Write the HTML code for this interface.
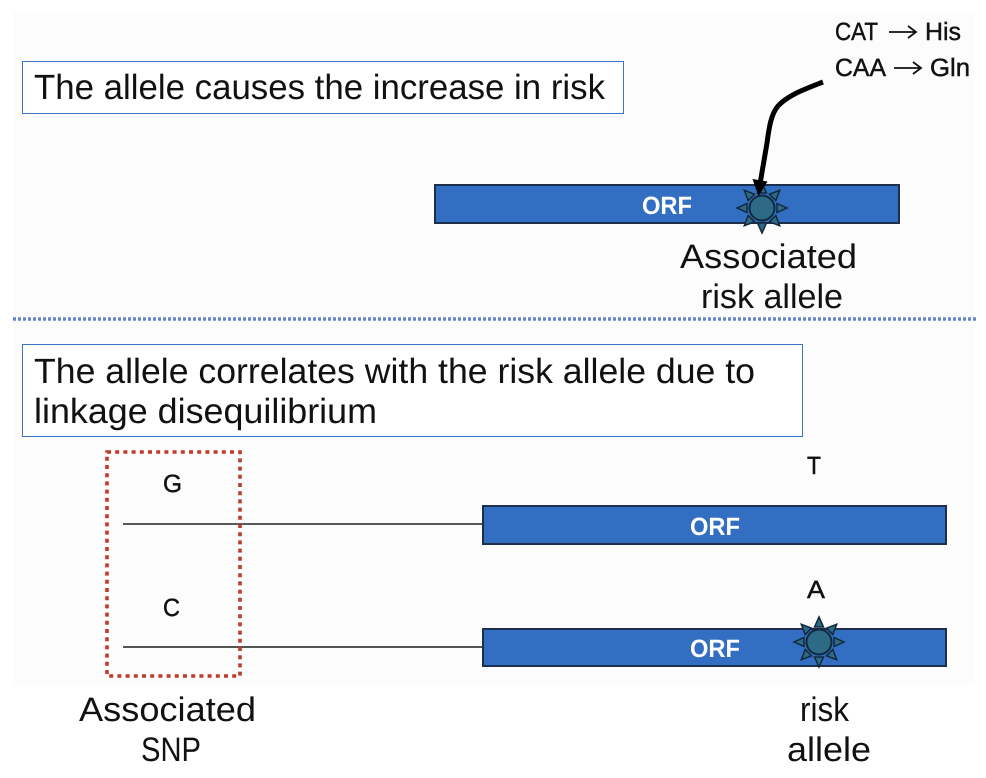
<!DOCTYPE html>
<html>
<head>
<meta charset="utf-8">
<style>
html,body{margin:0;padding:0;background:#fff;}
svg{display:block;}
text{font-family:"Liberation Sans",sans-serif;fill:#111;text-rendering:geometricPrecision;}
.s{stroke:#111;stroke-width:.45px;}
</style>
</head>
<body>
<svg width="986" height="778" viewBox="0 0 986 778" xmlns="http://www.w3.org/2000/svg">
<defs>
<g id="star">
  <g fill="#2d6a85" stroke="#12283c" stroke-width="1.5" stroke-linejoin="miter">
    <polygon points="-4.5,-15 0,-25 4.5,-15"/>
    <polygon points="-4.5,-15 0,-25 4.5,-15" transform="rotate(45)"/>
    <polygon points="-4.5,-15 0,-25 4.5,-15" transform="rotate(90)"/>
    <polygon points="-4.5,-15 0,-25 4.5,-15" transform="rotate(135)"/>
    <polygon points="-4.5,-15 0,-25 4.5,-15" transform="rotate(180)"/>
    <polygon points="-4.5,-15 0,-25 4.5,-15" transform="rotate(225)"/>
    <polygon points="-4.5,-15 0,-25 4.5,-15" transform="rotate(270)"/>
    <polygon points="-4.5,-15 0,-25 4.5,-15" transform="rotate(315)"/>
  </g>
  <circle r="12.500" fill="#2d6a85" stroke="#12283c" stroke-width="2"/>
</g>
</defs>

<rect x="13" y="12" width="962" height="673" fill="#fcfcfc"/>

<!-- Top box -->
<rect x="22.5" y="61.5" width="601" height="52" fill="#fff" stroke="#3a75c4" stroke-width="1"/>
<text x="34" y="99" font-size="35" textLength="571" lengthAdjust="spacingAndGlyphs">The allele causes the increase in risk</text>

<!-- Codon labels -->
<text class="s" x="835" y="40" font-size="25" textLength="43" lengthAdjust="spacingAndGlyphs">CAT</text>
<text class="s" x="925" y="40" font-size="25" textLength="36" lengthAdjust="spacingAndGlyphs">His</text>
<text class="s" x="835" y="76" font-size="25" textLength="51" lengthAdjust="spacingAndGlyphs">CAA</text>
<text class="s" x="930" y="76" font-size="25" textLength="40" lengthAdjust="spacingAndGlyphs">Gln</text>
<g fill="none" stroke="#111" stroke-width="1.8">
  <path d="M889 32H915M908 26L916 32L908 38"/>
  <path d="M894 68H920M913 62L921 68L913 74"/>
</g>

<!-- Top ORF -->
<rect x="435" y="185" width="464" height="38" fill="#326fc2" stroke="#1d2f4d" stroke-width="2"/>
<text x="642" y="214" font-size="25" font-weight="bold" style="fill:#fff" textLength="50" lengthAdjust="spacingAndGlyphs">ORF</text>
<use href="#star" x="762" y="208"/>

<!-- Curved arrow -->
<path d="M823 82C805 89 788 95 778 106C771 114 769 128 767 143L760 184" fill="none" stroke="#000" stroke-width="5"/>
<polygon points="752.500,179 767.500,181.500 758.500,196" fill="#000"/>

<text x="680" y="268" font-size="34" textLength="177" lengthAdjust="spacingAndGlyphs">Associated</text>
<text x="701" y="308" font-size="34" textLength="142" lengthAdjust="spacingAndGlyphs">risk allele</text>

<!-- Divider -->
<line x1="13" y1="319" x2="977" y2="319" stroke="#6685c6" stroke-width="3.500" stroke-dasharray="3 2"/>

<!-- Lower box -->
<rect x="22.5" y="344.5" width="780" height="92" fill="#fff" stroke="#3a75c4" stroke-width="1"/>
<text x="34" y="383" font-size="35" textLength="721" lengthAdjust="spacingAndGlyphs">The allele correlates with the risk allele due to</text>
<text x="34" y="423" font-size="35" textLength="343" lengthAdjust="spacingAndGlyphs">linkage disequilibrium</text>

<!-- SNP lines -->
<line x1="123" y1="524" x2="483" y2="524" stroke="#222" stroke-width="1.6"/>
<line x1="123" y1="647" x2="483" y2="647" stroke="#555" stroke-width="2"/>

<!-- Dotted box -->
<rect x="107" y="452" width="133" height="224" fill="none" stroke="#c0392b" stroke-width="3.600" stroke-dasharray="4 4.200"/>

<text class="s" x="163" y="492" font-size="25" textLength="19" lengthAdjust="spacingAndGlyphs">G</text>
<text class="s" x="163" y="616" font-size="25" textLength="17" lengthAdjust="spacingAndGlyphs">C</text>
<text class="s" x="807" y="474" font-size="25" textLength="14" lengthAdjust="spacingAndGlyphs">T</text>
<text class="s" x="807" y="598" font-size="25" textLength="18" lengthAdjust="spacingAndGlyphs">A</text>

<!-- Lower ORFs -->
<rect x="483" y="506" width="463" height="38" fill="#326fc2" stroke="#1d2f4d" stroke-width="2"/>
<text x="690" y="535" font-size="25" font-weight="bold" style="fill:#fff" textLength="50" lengthAdjust="spacingAndGlyphs">ORF</text>
<rect x="483" y="629" width="463" height="37" fill="#326fc2" stroke="#1d2f4d" stroke-width="2"/>
<text x="690" y="657" font-size="25" font-weight="bold" style="fill:#fff" textLength="50" lengthAdjust="spacingAndGlyphs">ORF</text>
<use href="#star" x="819" y="642"/>

<!-- Bottom labels -->
<text x="79" y="721" font-size="34" textLength="177" lengthAdjust="spacingAndGlyphs">Associated</text>
<text x="141" y="761" font-size="34" textLength="60" lengthAdjust="spacingAndGlyphs">SNP</text>
<text x="800" y="721" font-size="34" textLength="49" lengthAdjust="spacingAndGlyphs">risk</text>
<text x="787" y="761" font-size="34" textLength="84" lengthAdjust="spacingAndGlyphs">allele</text>
</svg>
</body>
</html>
